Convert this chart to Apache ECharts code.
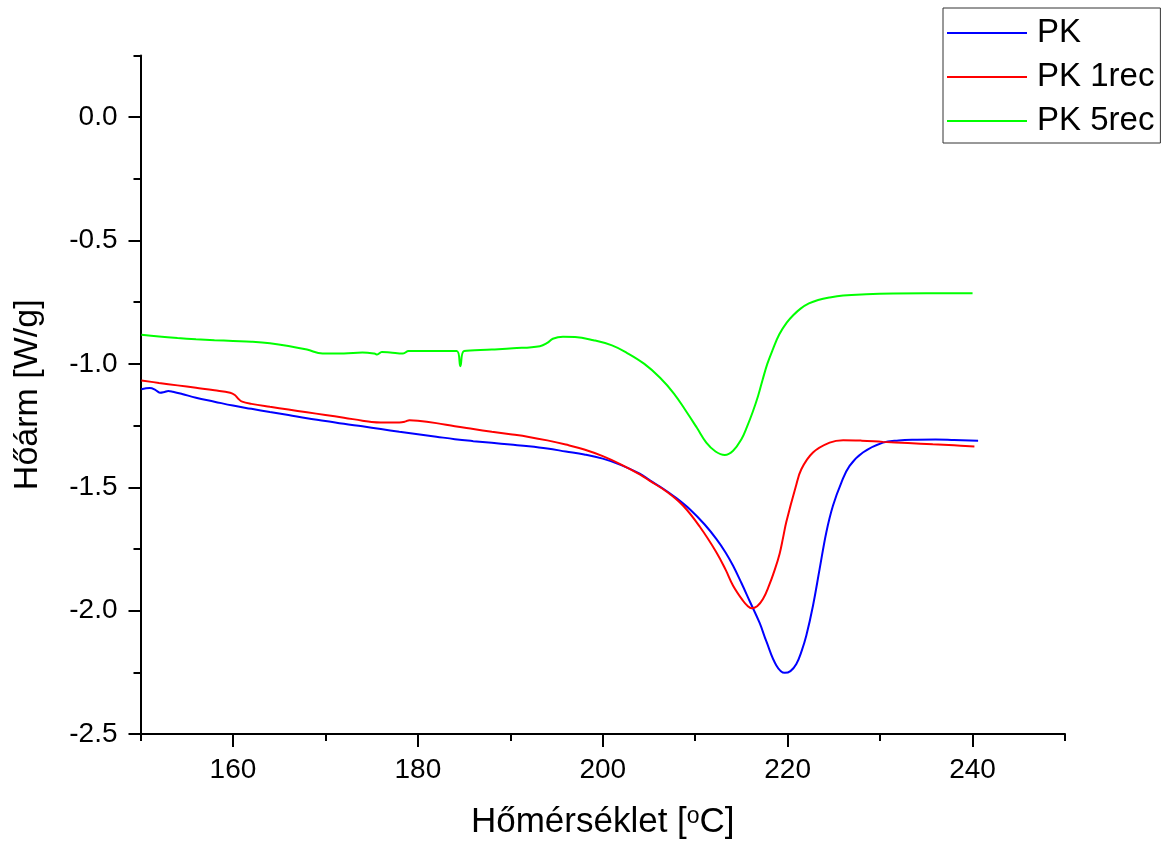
<!DOCTYPE html>
<html>
<head>
<meta charset="utf-8">
<script src="https://cdn.jsdelivr.net/npm/echarts@6/dist/echarts.min.js"></script>
<style>
html,body{margin:0;padding:0;background:#fff;}
#chart{width:1169px;height:845px;}
</style>
</head>
<body>
<div id="chart"></div>
<script>
// ---- data ----
const seriesNames = ['PK', 'PK 1rec', 'PK 5rec'];

const pkT = [150.1,151.0,151.6,152.1,152.6,153.0,153.5,154.5,156,158,160,162,164,166,168,170,172,174,176,178,180,182,184,186,188,190,192,194,196,198,200,202,204,205.1,206.5,208,209.5,211,212.3,213.3,214.1,215,215.9,216.97,217.7,218.78,219.68,220.3,220.94,221.5,222.02,222.74,223.46,224.18,224.9,225.81,226.7,228.14,230.3,232,234,236,238,240.6];
const pkV = [-1.103,-1.098,-1.105,-1.117,-1.114,-1.110,-1.113,-1.122,-1.137,-1.153,-1.169,-1.182,-1.195,-1.207,-1.220,-1.231,-1.243,-1.253,-1.264,-1.275,-1.285,-1.295,-1.305,-1.313,-1.320,-1.327,-1.334,-1.343,-1.355,-1.367,-1.384,-1.410,-1.445,-1.472,-1.505,-1.545,-1.592,-1.650,-1.710,-1.765,-1.818,-1.888,-1.962,-2.050,-2.125,-2.222,-2.252,-2.245,-2.216,-2.165,-2.101,-1.980,-1.831,-1.683,-1.575,-1.481,-1.413,-1.359,-1.319,-1.310,-1.307,-1.306,-1.308,-1.311];

const rec1T = [150.1,152,154,156,158,159.7,160.2,160.6,161.0,162,164,166,168,170,172,174,175,176,178,178.6,179.1,180,182,184,186,188,190,192,194,196,198,200,202,204,205.1,207,208.7,210.5,212.3,213.3,214.1,215.17,215.7,216.08,216.7,217.33,217.98,218.6,219.14,219.5,219.86,220.86,221.48,222.74,224.54,226.0,228,230.3,233,235.7,238,240.2];
const rec1V = [-1.067,-1.077,-1.087,-1.097,-1.107,-1.117,-1.126,-1.142,-1.153,-1.162,-1.174,-1.185,-1.196,-1.207,-1.218,-1.230,-1.235,-1.237,-1.237,-1.234,-1.228,-1.230,-1.240,-1.253,-1.264,-1.275,-1.285,-1.296,-1.310,-1.327,-1.347,-1.374,-1.408,-1.448,-1.474,-1.520,-1.575,-1.660,-1.764,-1.835,-1.899,-1.960,-1.982,-1.990,-1.982,-1.953,-1.899,-1.835,-1.768,-1.705,-1.640,-1.500,-1.427,-1.359,-1.319,-1.309,-1.311,-1.316,-1.321,-1.326,-1.330,-1.335];

const rec5T = [150.1,152,154,156,158,160,162,164,166,168,169.7,172,174,175.3,175.6,176.1,177,178.4,179.0,182,184.2,184.6,185.0,188,190.3,193.2,194.0,194.6,195.7,197.0,199.0,201,202.6,204.5,206.2,207.7,209,210.2,211.2,212.2,213.2,214.1,215.0,215.6,216.2,216.8,217.3,217.8,218.4,219.1,219.9,220.6,221.4,222.3,223.3,224.5,226,228.5,231.4,235,240];
const rec5V = [-0.882,-0.889,-0.895,-0.900,-0.904,-0.907,-0.910,-0.916,-0.927,-0.942,-0.958,-0.958,-0.954,-0.958,-0.962,-0.952,-0.954,-0.958,-0.948,-0.948,-0.948,-1.009,-0.948,-0.942,-0.937,-0.928,-0.915,-0.898,-0.890,-0.891,-0.904,-0.925,-0.955,-1.000,-1.056,-1.120,-1.191,-1.260,-1.319,-1.355,-1.369,-1.352,-1.305,-1.255,-1.197,-1.130,-1.063,-1.000,-0.941,-0.880,-0.833,-0.803,-0.776,-0.755,-0.741,-0.731,-0.723,-0.718,-0.715,-0.714,-0.714];

// tick positions (major ticks get labels)
const xTickValues = ['150','160','170','180','190','200','210','220','230','240','250'];
const yTickValues = ['-2.5','-2.25','-2.0','-1.75','-1.5','-1.25','-1.0','-0.75','-0.5','-0.25','0.0','0.25'];

const colors = ['#0000ff', '#ff0000', '#00ff00'];

function zip(t, v) { return t.map((x, i) => [x, v[i]]); }

const FONT = '"Liberation Sans", Arial, sans-serif';

const chart = echarts.init(document.getElementById('chart'), null, {renderer: 'canvas'});

const option = {
  backgroundColor: '#ffffff',
  animation: false,
  grid: {left: 140.5, right: 104, top: 55.5, bottom: 110, containLabel: false},
  legend: {
    orient: 'vertical',
    left: 943,
    top: 8,
    data: seriesNames,
    icon: 'rect',
    itemWidth: 80,
    itemHeight: 2,
    itemGap: 10,
    padding: [8, 6, 5, 4],
    borderColor: '#333',
    borderWidth: 1,
    backgroundColor: '#fff',
    textStyle: {fontFamily: FONT, fontSize: 33, color: '#000', lineHeight: 34, padding: [0, 0, 0, 5]}
  },
  xAxis: [
    {
      type: 'value', min: 150, max: 250, interval: 10, position: 'bottom',
      name: 'Hőmérséklet [{sup|o}C]',
      nameLocation: 'middle', nameGap: 71,
      nameTextStyle: {fontFamily: FONT, fontSize: 35, color: '#000',
        rich: {sup: {fontFamily: FONT, fontSize: 23, color: '#000', verticalAlign: 'top', lineHeight: 24}}},
      axisLine: {onZero: false, lineStyle: {color: '#000', width: 2}},
      axisTick: {show: true, inside: false, length: 7, lineStyle: {color: '#000', width: 2}},
      axisLabel: {fontFamily: FONT, fontSize: 28, color: '#000', margin: 22,
        formatter: v => (v % 20 === 0 ? String(v) : '')},
      splitLine: {show: false}
    },
    {
      type: 'category', data: xTickValues, boundaryGap: false, position: 'bottom', offset: 0,
      axisLine: {show: false, onZero: false},
      axisTick: {show: true, length: 13, interval: (i) => i % 2 === 1, lineStyle: {color: '#000', width: 2}},
      axisLabel: {show: false},
      splitLine: {show: false}
    }
  ],
  yAxis: [
    {
      type: 'value', min: -2.5, max: 0.25, interval: 0.25, position: 'left',
      name: 'Hőárm [W/g]',
      nameLocation: 'middle', nameGap: 96, nameRotate: 90,
      nameTextStyle: {fontFamily: FONT, fontSize: 34, color: '#000'},
      axisLine: {onZero: false, lineStyle: {color: '#000', width: 2}},
      axisTick: {show: true, inside: false, length: 7, lineStyle: {color: '#000', width: 2}},
      axisLabel: {fontFamily: FONT, fontSize: 28, color: '#000', margin: 23,
        formatter: v => (Math.abs(v * 2 - Math.round(v * 2)) < 1e-9 ? v.toFixed(1) : '')},
      splitLine: {show: false}
    },
    {
      type: 'category', data: yTickValues, boundaryGap: false, position: 'left', offset: 0,
      axisLine: {show: false, onZero: false},
      axisTick: {show: true, length: 12, interval: (i) => i % 2 === 0, lineStyle: {color: '#000', width: 2}},
      axisLabel: {show: false},
      splitLine: {show: false}
    }
  ],
  series: [
    {name: seriesNames[0], type: 'line', xAxisIndex: 0, yAxisIndex: 0, data: zip(pkT, pkV),
      symbol: 'none', smooth: 0.4, lineStyle: {color: colors[0], width: 2}, itemStyle: {color: colors[0]}},
    {name: seriesNames[1], type: 'line', xAxisIndex: 0, yAxisIndex: 0, data: zip(rec1T, rec1V),
      symbol: 'none', smooth: 0.4, lineStyle: {color: colors[1], width: 2}, itemStyle: {color: colors[1]}},
    {name: seriesNames[2], type: 'line', xAxisIndex: 0, yAxisIndex: 0, data: zip(rec5T, rec5V),
      symbol: 'none', smooth: 0.4, lineStyle: {color: colors[2], width: 2}, itemStyle: {color: colors[2]}}
  ]
};
chart.setOption(option);
</script>
</body>
</html>
